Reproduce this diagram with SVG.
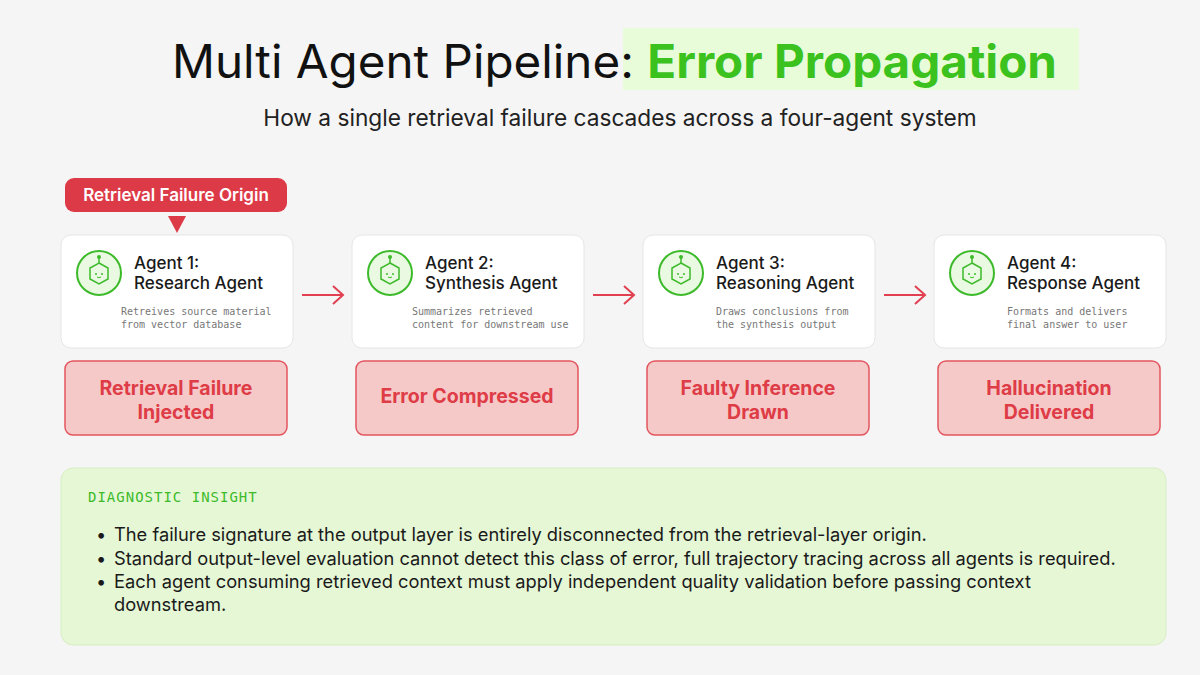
<svg xmlns="http://www.w3.org/2000/svg" width="1200" height="675" viewBox="0 0 1200 675">
<defs>
<style>
.sans{font-family:Inter,"Liberation Sans",sans-serif}
.mono{font-family:"DejaVu Sans Mono","Liberation Mono",monospace}
.card{fill:#fff;stroke:#e6e6e6;stroke-width:1}
.h{font-size:17px;font-weight:500;fill:#1a1a1a}
.d{font-size:10px;fill:#777}
.rb{fill:#f6c9c9;stroke:#e2555e;stroke-width:1.5}
.rt{font-size:19.5px;font-weight:700;fill:#de3c46;text-anchor:middle}
.conn{stroke:#e04050;stroke-width:2;fill:none}
.b{font-size:18.3px;fill:#1a1a1a}
</style>
<g id="icon">
<circle r="22" fill="#eaf9e2" stroke="#3cba2a" stroke-width="2"/>
<path d="M0,-10 L9,-5 L9,6 L0,11 L-9,6 L-9,-5 Z" fill="none" stroke="#3cba2a" stroke-width="1.5"/>
<line x1="0" y1="-10" x2="0" y2="-15" stroke="#3cba2a" stroke-width="1.5"/>
<circle cy="-16" r="2" fill="#3cba2a"/>
<circle cx="-3" cy="1" r="1" fill="#3cba2a"/><circle cx="3" cy="1" r="1" fill="#3cba2a"/>
<path d="M-2,4 Q0,5.5 2,4" stroke="#3cba2a" fill="none"/>
</g>
</defs>
<rect width="1200" height="675" fill="#f5f5f5"/>
<rect x="623" y="28" width="456" height="62" fill="#e9fcd9"/>
<text x="172" y="78" class="sans" font-size="46" fill="#111" textLength="885" lengthAdjust="spacingAndGlyphs">Multi Agent Pipeline: <tspan font-weight="700" fill="#3cc21e">Error Propagation</tspan></text>
<text x="620" y="126" class="sans" font-size="22.7" fill="#222" text-anchor="middle">How a single retrieval failure cascades across a four-agent system</text>

<g id="origin">
<rect x="65" y="178" width="222" height="34" rx="9" fill="#dd3a47"/>
<text x="176" y="201" class="sans" font-size="17" font-weight="600" fill="#fff" text-anchor="middle">Retrieval Failure Origin</text>
<path d="M168,216 L186,216 L177,233 Z" fill="#dd3a47"/>
</g>

<g id="agent1">
<rect x="61" y="235" width="232" height="113" rx="10" class="card"/>
<use href="#icon" x="99" y="273"/>
<text x="134" y="269" class="sans h">Agent 1:</text><text x="134" y="289" class="sans h">Research Agent</text>
<text x="121" y="315" class="mono d">Retreives source material</text><text x="121" y="328" class="mono d">from vector database</text>
</g>
<g id="agent2">
<rect x="352" y="235" width="232" height="113" rx="10" class="card"/>
<use href="#icon" x="390" y="273"/>
<text x="425" y="269" class="sans h">Agent 2:</text><text x="425" y="289" class="sans h">Synthesis Agent</text>
<text x="412" y="315" class="mono d">Summarizes retrieved</text><text x="412" y="328" class="mono d">content for downstream use</text>
</g>
<g id="agent3">
<rect x="643" y="235" width="232" height="113" rx="10" class="card"/>
<use href="#icon" x="681" y="273"/>
<text x="716" y="269" class="sans h">Agent 3:</text><text x="716" y="289" class="sans h">Reasoning Agent</text>
<text x="716" y="315" class="mono d">Draws conclusions from</text><text x="716" y="328" class="mono d">the synthesis output</text>
</g>
<g id="agent4">
<rect x="934" y="235" width="232" height="113" rx="10" class="card"/>
<use href="#icon" x="972" y="273"/>
<text x="1007" y="269" class="sans h">Agent 4:</text><text x="1007" y="289" class="sans h">Response Agent</text>
<text x="1007" y="315" class="mono d">Formats and delivers</text><text x="1007" y="328" class="mono d">final answer to user</text>
</g>

<g id="connectors">
<path class="conn" d="M302,295 H343 M333,286 L343,295 L333,304"/>
<path class="conn" d="M593,295 H634 M624,286 L634,295 L624,304"/>
<path class="conn" d="M884,295 H925 M915,286 L925,295 L915,304"/>
</g>

<g id="s1"><rect x="65" y="361" width="222" height="74" rx="8" class="rb"/>
<text x="176" y="395" class="sans rt">Retrieval Failure</text><text x="176" y="419" class="sans rt">Injected</text></g>
<g id="s2"><rect x="356" y="361" width="222" height="74" rx="8" class="rb"/>
<text x="467" y="403" class="sans rt">Error Compressed</text></g>
<g id="s3"><rect x="647" y="361" width="222" height="74" rx="8" class="rb"/>
<text x="758" y="395" class="sans rt">Faulty Inference</text><text x="758" y="419" class="sans rt">Drawn</text></g>
<g id="s4"><rect x="938" y="361" width="222" height="74" rx="8" class="rb"/>
<text x="1049" y="395" class="sans rt">Hallucination</text><text x="1049" y="419" class="sans rt">Delivered</text></g>

<g id="insight">
<rect x="61" y="468" width="1105" height="177" rx="12" fill="#e6f7d6" stroke="#d6eec2"/>
<text x="88" y="502" class="mono" font-size="14" fill="#3cba2a" letter-spacing="1">DIAGNOSTIC INSIGHT</text>
<text x="96" y="541" class="sans b" font-size="14">•</text><text x="114" y="541" class="sans b">The failure signature at the output layer is entirely disconnected from the retrieval-layer origin.</text>
<text x="96" y="565" class="sans b" font-size="14">•</text><text x="114" y="565" class="sans b">Standard output-level evaluation cannot detect this class of error, full trajectory tracing across all agents is required.</text>
<text x="96" y="588" class="sans b" font-size="14">•</text><text x="114" y="588" class="sans b">Each agent consuming retrieved context must apply independent quality validation before passing context</text>
<text x="114" y="611" class="sans b">downstream.</text>
</g>
</svg>
